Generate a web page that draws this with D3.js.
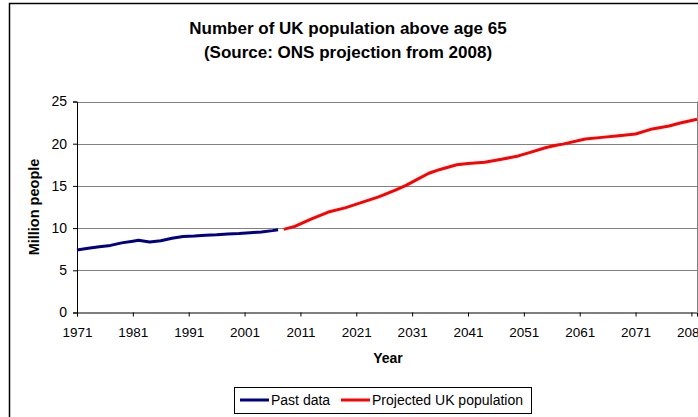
<!DOCTYPE html>
<html>
<head>
<meta charset="utf-8">
<title>UK population above 65</title>
<script src="https://d3js.org/d3.v7.min.js"></script>
<style>
  body { margin: 0; background: #fff; }
  text { font-family: "Liberation Sans", Arial, sans-serif; }
</style>
</head>
<body>
<script>
// values (million people)
const pastYears = [1971, 1973, 1975, 1977, 1979, 1981, 1982, 1984, 1986, 1988, 1990, 1992, 1994, 1996, 1998, 2000, 2002, 2004, 2006, 2007];
const pastValues = [7.4, 7.6, 7.8, 7.95, 8.25, 8.45, 8.55, 8.35, 8.5, 8.8, 9.0, 9.05, 9.15, 9.2, 9.3, 9.35, 9.45, 9.55, 9.7, 9.8];

const projYears = [2008, 2010, 2013, 2016, 2019, 2022, 2025, 2028, 2030, 2032, 2034, 2036, 2039, 2041, 2044, 2047, 2050, 2052, 2055, 2057, 2058, 2062, 2065, 2068, 2071, 2074, 2077, 2079, 2082];
const projValues = [9.85, 10.2, 11.1, 11.9, 12.4, 13.05, 13.7, 14.5, 15.1, 15.8, 16.5, 16.95, 17.5, 17.65, 17.8, 18.15, 18.55, 18.95, 19.55, 19.85, 19.95, 20.55, 20.75, 20.95, 21.15, 21.75, 22.1, 22.45, 22.9];

const xTickYears = [1971, 1981, 1991, 2001, 2011, 2021, 2031, 2041, 2051, 2061, 2071, 2081];
const yTicks = [0, 5, 10, 15, 20, 25];
const seriesNames = ["Past data", "Projected UK population"];
const seriesColors = ["#000080", "#ff0000"];

const width = 698, height = 417;
const svg = d3.select("body").append("svg")
    .attr("width", width)
    .attr("height", height);

// chart border (only left and top visible in the picture)
svg.append("rect")
    .attr("x", 9.5).attr("y", 3.5)
    .attr("width", 720).attr("height", 440)
    .style("fill", "none")
    .style("stroke", "#000")
    .style("stroke-width", 1.5);

const x = d3.scaleLinear().domain([1971, 2082]).range([77, 697]);
const y = d3.scaleLinear().domain([0, 25]).range([312.5, 101.5]);

// gridlines
svg.append("g")
    .selectAll("line")
    .data(yTicks.filter(d => d > 0))
    .join("line")
    .attr("x1", x.range()[0]).attr("x2", x.range()[1])
    .attr("y1", d => Math.round(y(d)) + 0.5).attr("y2", d => Math.round(y(d)) + 0.5)
    .style("stroke", "#808080");

// right border of plot area
svg.append("line")
    .attr("x1", 697.5).attr("x2", 697.5)
    .attr("y1", y(25)).attr("y2", y(0))
    .style("stroke", "#808080");

// axes
const xAxis = svg.append("g")
    .attr("transform", `translate(0,${y(0)})`)
    .call(d3.axisBottom(x).tickValues(xTickYears).tickFormat(d3.format("d")).tickSizeOuter(0).tickSize(4).tickPadding(11));
xAxis.select(".domain").style("stroke", "#000");
xAxis.selectAll("text").style("font-size", "13.5px").style("fill", "#000");

const yAxis = svg.append("g")
    .attr("transform", `translate(${x(1971)},0)`)
    .call(d3.axisLeft(y).tickValues(yTicks).tickSizeOuter(0).tickSize(4).tickPadding(6));
yAxis.selectAll("text").style("font-size", "14px").style("fill", "#000");

// lines
const line = d3.line()
    .x(d => x(d[0]))
    .y(d => y(d[1]));

const series = [
  pastYears.map((yr, i) => [yr, pastValues[i]]),
  projYears.map((yr, i) => [yr, projValues[i]])
];

svg.append("g")
    .selectAll("path")
    .data(series)
    .join("path")
    .attr("d", line)
    .style("fill", "none")
    .style("stroke", (d, i) => seriesColors[i])
    .style("stroke-width", 3)
    .style("stroke-linejoin", "round");

// titles
svg.append("text")
    .attr("x", 348).attr("y", 34)
    .attr("text-anchor", "middle")
    .style("font-size", "17px").style("font-weight", "bold")
    .text("Number of UK population above age 65");
svg.append("text")
    .attr("x", 348).attr("y", 58)
    .attr("text-anchor", "middle")
    .style("font-size", "17px").style("font-weight", "bold")
    .text("(Source: ONS projection from 2008)");

svg.append("text")
    .attr("x", 388).attr("y", 363)
    .attr("text-anchor", "middle")
    .style("font-size", "14px").style("font-weight", "bold")
    .text("Year");

svg.append("text")
    .attr("transform", "translate(39,207) rotate(-90)")
    .attr("text-anchor", "middle")
    .style("font-size", "14.5px").style("font-weight", "bold")
    .text("Million people");

// legend
const legend = svg.append("g");
legend.append("rect")
    .attr("x", 234.5).attr("y", 387.5)
    .attr("width", 297).attr("height", 26)
    .style("fill", "#fff")
    .style("stroke", "#000");

const legendX = [240, 341];
seriesNames.forEach((name, i) => {
  legend.append("line")
      .attr("x1", legendX[i]).attr("x2", legendX[i] + 29)
      .attr("y1", 400).attr("y2", 400)
      .style("stroke", seriesColors[i])
      .style("stroke-width", 3);
  legend.append("text")
      .attr("x", legendX[i] + 31).attr("y", 405)
      .style("font-size", "14px")
      .text(name);
});
</script>
</body>
</html>
